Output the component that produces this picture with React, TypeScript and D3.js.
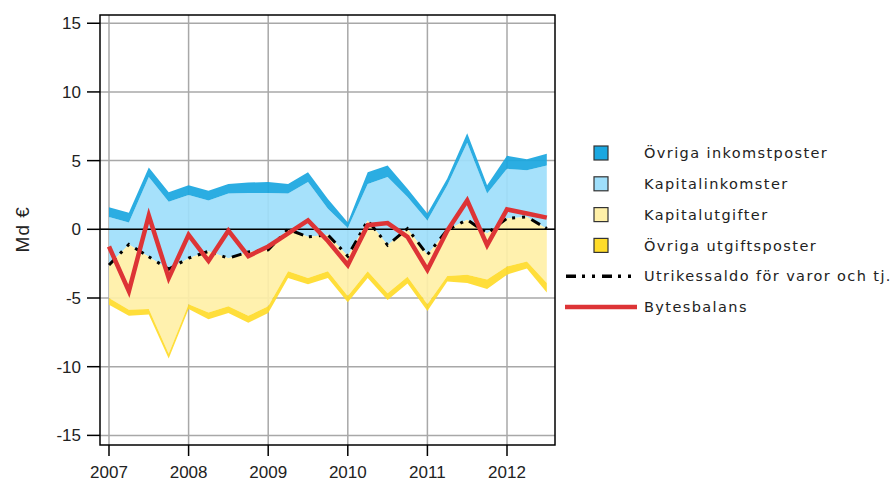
import React from 'react';
import * as d3 from 'd3';

// quarterly data, 2007Q1 .. 2012Q3 (Md €)
const quarters = [
  '2007Q1', '2007Q2', '2007Q3', '2007Q4',
  '2008Q1', '2008Q2', '2008Q3', '2008Q4',
  '2009Q1', '2009Q2', '2009Q3', '2009Q4',
  '2010Q1', '2010Q2', '2010Q3', '2010Q4',
  '2011Q1', '2011Q2', '2011Q3', '2011Q4',
  '2012Q1', '2012Q2', '2012Q3',
];

const utrikessaldo = [-2.6, -1.1, -2.0, -2.9, -2.1, -1.6, -2.1, -1.65, -1.5, 0.0, -0.55, -0.4, -1.95, 0.65, -1.15, 0.05, -1.85, -0.05, 0.7, -0.3, 0.8, 0.9, 0.05];
const kapitalinkomster = [3.5, 1.6, 5.8, 4.9, 4.6, 3.7, 4.7, 4.3, 4.15, 2.6, 4.0, 1.9, 2.05, 2.65, 4.95, 2.3, 2.5, 3.25, 5.6, 2.9, 3.6, 3.4, 4.6];
const ovrigaInkomstposter = [0.7, 0.7, 0.7, 0.7, 0.7, 0.7, 0.7, 0.75, 0.8, 0.7, 0.7, 0.7, 0.4, 0.85, 0.85, 0.6, 0.5, 0.5, 0.7, 0.6, 0.95, 0.8, 0.85];
const kapitalutgifter = [2.4, 4.75, 3.8, 6.15, 3.35, 4.45, 3.5, 4.65, 4.1, 3.05, 3.0, 2.65, 2.9, 3.7, 3.5, 3.5, 3.6, 3.35, 4.0, 3.35, 3.5, 3.25, 3.95];
const ovrigaUtgiftsposter = [0.5, 0.45, 0.4, 0.35, 0.35, 0.5, 0.5, 0.5, 0.5, 0.5, 0.45, 0.5, 0.45, 0.5, 0.5, 0.5, 0.5, 0.4, 0.6, 0.7, 0.6, 0.5, 0.7];
const bytesbalans = [-1.25, -4.5, 1.0, -3.55, -0.4, -2.3, -0.1, -1.95, -1.25, -0.3, 0.65, -0.85, -2.6, 0.3, 0.45, -0.55, -2.95, -0.1, 2.1, -1.15, 1.45, 1.15, 0.85];

const yearTicks = [2007, 2008, 2009, 2010, 2011, 2012];
const valueTicks = [-15, -10, -5, 0, 5, 10, 15];

const legendItems = [
  { label: 'Övriga inkomstposter', kind: 'box', color: '#1aa7e0' },
  { label: 'Kapitalinkomster', kind: 'box', color: '#9fdffb' },
  { label: 'Kapitalutgifter', kind: 'box', color: '#fff0a8' },
  { label: 'Övriga utgiftsposter', kind: 'box', color: '#ffdc2a' },
  { label: 'Utrikessaldo för varor och tj.', kind: 'dash', color: '#000' },
  { label: 'Bytesbalans', kind: 'line', color: '#dd3436' },
];

const toYear = (q: string) => +q.slice(0, 4) + (+q.slice(5) - 1) / 4;

export default function App() {
  const width = 894;
  const height = 486;
  const left = 100, right = 555, top = 15, bottom = 445;

  const x = d3.scaleLinear().domain([2006.887, 2012.603]).range([left, right]);
  const y = d3.scaleLinear().domain([-15.7, 15.6]).range([bottom, top]);

  const rows = quarters.map((q, i) => {
    const base = utrikessaldo[i];
    const kinTop = base + kapitalinkomster[i];
    const oinTop = kinTop + ovrigaInkomstposter[i];
    const kutBot = base - kapitalutgifter[i];
    const outBot = kutBot - ovrigaUtgiftsposter[i];
    return { t: toYear(q), base, kinTop, oinTop, kutBot, outBot, bb: bytesbalans[i] };
  });

  type Row = typeof rows[number];
  const band = (lo: (d: Row) => number, hi: (d: Row) => number) =>
    d3.area<Row>().x(d => x(d.t)).y0(d => y(lo(d))).y1(d => y(hi(d)))(rows) || '';

  const tradeLine = d3.line<Row>().x(d => x(d.t)).y(d => y(d.base))(rows) || '';
  const bbLine = d3.line<Row>().x(d => x(d.t)).y(d => y(d.bb))(rows) || '';

  const axisFont = '"Liberation Sans", Arial, sans-serif';
  const legendFont = '"DejaVu Sans", Verdana, sans-serif';
  const dash = '10,6,3,7,3,7';

  return (
    <svg width={width} height={height} style={{ position: 'absolute', left: 0, top: 0, background: '#fff' }}>
      {/* grid */}
      {valueTicks.map(v => (
        <line key={'gy' + v} x1={left} x2={right} y1={y(v)} y2={y(v)} stroke="#a8a8a8" strokeWidth={1.5} />
      ))}
      {yearTicks.map(t => (
        <line key={'gx' + t} x1={x(t)} x2={x(t)} y1={top} y2={bottom} stroke="#a8a8a8" strokeWidth={1.5} />
      ))}

      {/* stacked bands around the trade balance */}
      <g opacity={0.92}>
        <path d={band(d => d.base, d => d.kinTop)} fill="#9fdffb" />
        <path d={band(d => d.kinTop, d => d.oinTop)} fill="#1aa7e0" />
        <path d={band(d => d.kutBot, d => d.base)} fill="#fff0a8" />
        <path d={band(d => d.outBot, d => d.kutBot)} fill="#ffdc2a" />
      </g>

      <line x1={left} x2={right} y1={y(0)} y2={y(0)} stroke="#000" strokeWidth={1.5} />

      <path d={tradeLine} fill="none" stroke="#000" strokeWidth={3} strokeDasharray={dash} />
      <path d={bbLine} fill="none" stroke="#dd3436" strokeWidth={4.5} strokeLinejoin="miter" />

      {/* frame and axes */}
      <rect x={left} y={top} width={right - left} height={bottom - top} fill="none" stroke="#000" strokeWidth={1.5} />
      {valueTicks.map(v => (
        <g key={'ty' + v}>
          <line x1={87} x2={left} y1={y(v)} y2={y(v)} stroke="#000" strokeWidth={1.5} />
          <text x={81} y={y(v)} dy="0.35em" textAnchor="end" fontFamily={axisFont} fontSize={17} fill="#222">{v}</text>
        </g>
      ))}
      {yearTicks.map(t => (
        <g key={'tx' + t}>
          <line x1={x(t)} x2={x(t)} y1={bottom} y2={456} stroke="#000" strokeWidth={1.5} />
          <text x={x(t)} y={478} textAnchor="middle" fontFamily={axisFont} fontSize={17} fill="#222">{t}</text>
        </g>
      ))}
      <text transform={`translate(29,${y(0)}) rotate(-90)`} textAnchor="middle" fontFamily={axisFont} fontSize={19} letterSpacing={1} fill="#222">Md €</text>

      {/* legend */}
      {legendItems.map((item, i) => {
        const cy = 153 + i * 30.8;
        return (
          <g key={item.label}>
            {item.kind === 'box' && (
              <rect x={594} y={cy - 7} width={14} height={14} fill={item.color} stroke="#333" strokeWidth={1.2} />
            )}
            {item.kind === 'dash' && (
              <line x1={566} x2={636} y1={cy} y2={cy} stroke="#000" strokeWidth={3.5} strokeDasharray={dash} />
            )}
            {item.kind === 'line' && (
              <line x1={565} x2={637} y1={cy} y2={cy} stroke={item.color} strokeWidth={4.5} />
            )}
            <text x={644} y={cy} dy="0.36em" fontFamily={legendFont} fontSize={14.5} letterSpacing={1.4} fill="#222">{item.label}</text>
          </g>
        );
      })}
    </svg>
  );
}
